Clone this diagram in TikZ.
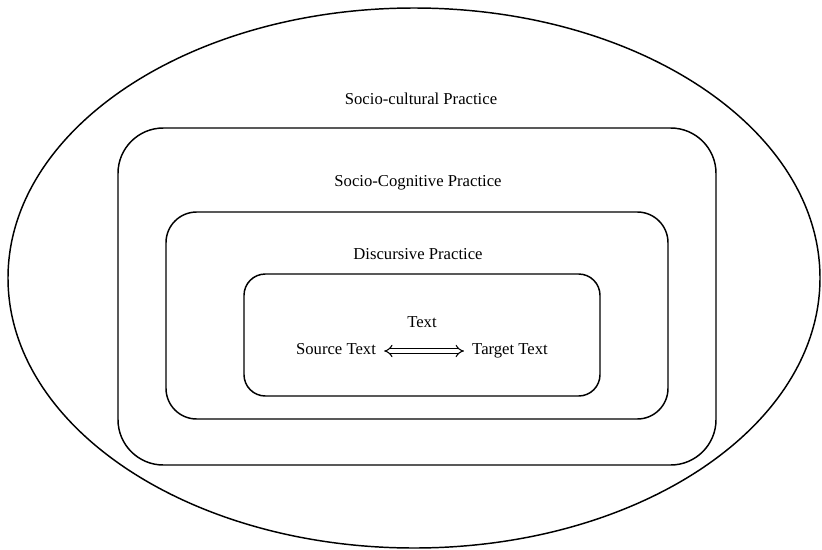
\documentclass[tikz,border=0pt]{standalone}
\usepackage{fontspec}
\setmainfont{Liberation Serif}
\usetikzlibrary{arrows.meta}

\tikzset{
  layer/.style={draw, line width=1.1pt, rounded corners=#1, inner sep=0pt},
  lbl/.style={font=\fontsize{12.5}{15}\selectfont, inner sep=1pt, text height=1.6ex, text depth=0.4ex}
}

\begin{document}
\begin{tikzpicture}[x=0.75pt, y=-0.75pt]
\useasboundingbox (0,0) rectangle (822,550);
% outer ellipse
\draw[line width=1.1pt] (414,278) ellipse (406 and 270);
% nested practices
\node[layer=34pt, minimum width=448.5pt, minimum height=252.75pt] (cog) at (417,296.5) {};
\node[layer=23pt, minimum width=376.5pt, minimum height=155.25pt] (disc) at (417,315.5) {};
\node[layer=16pt, minimum width=267pt, minimum height=91.5pt] (txt) at (422,335) {};
% labels
\node[lbl] (soccult) at (421,101) {Socio-cultural Practice};
\node[lbl] (soccog) at (418,183) {Socio-Cognitive Practice};
\node[lbl] (discl) at (418,256) {Discursive Practice};
\node[lbl] (textl) at (422,324) {Text};
\node[lbl] (src) at (336,351) {Source Text};
\node[lbl] (tgt) at (510,351) {Target Text};
\draw[double, double distance=2.4pt, line width=0.8pt, shorten <=5pt, shorten >=5pt,
  {Implies[length=5pt]}-{Implies[length=5pt]}] (src) -- (tgt);
\end{tikzpicture}
\end{document}
